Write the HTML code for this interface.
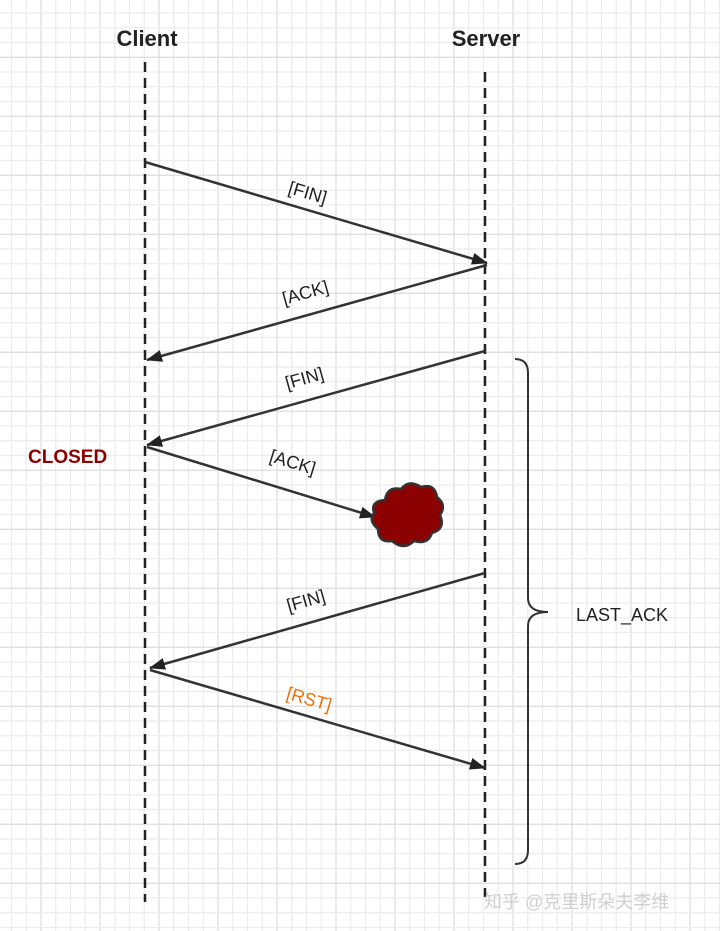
<!DOCTYPE html>
<html><head><meta charset="utf-8"><style>
html,body{margin:0;padding:0;background:#fff}
svg{display:block}
text{font-family:"Liberation Sans","Noto Sans CJK SC",sans-serif}
</style></head><body>
<svg id="chart" width="720" height="931" viewBox="0 0 720 931" xmlns="http://www.w3.org/2000/svg">
<defs>
<marker id="ah" markerWidth="16" markerHeight="12" refX="15" refY="6" orient="auto" markerUnits="userSpaceOnUse"><path d="M0,0 L16,6 L0,12 Z" fill="#222"/></marker>
</defs>
<g id="grid"></g>
<text x="147" y="46" font-size="22" font-weight="bold" text-anchor="middle" fill="#222">Client</text>
<text x="486" y="46" font-size="22" font-weight="bold" text-anchor="middle" fill="#222">Server</text>
<line x1="145" y1="62" x2="145" y2="902" stroke="#222" stroke-width="2.5" stroke-dasharray="10,6"/>
<line x1="485" y1="72" x2="485" y2="897" stroke="#222" stroke-width="2.5" stroke-dasharray="10,6"/>
<g id="msgs"></g>
<path d="M385,500 q2,-14 16,-11 q8,-10 20,-2 q14,-4 16,10 q10,8 3,18 q6,14 -8,18 q-4,12 -18,8 q-10,10 -22,0 q-14,2 -14,-12 q-10,-8 -4,-16 q-4,-12 11,-13 Z" fill="#8b0000" stroke="#333" stroke-width="2.5"/>
<text x="28" y="463" font-size="19" font-weight="bold" fill="#8b0000">CLOSED</text>
<path d="M515,359 q13,0 13,14 L528,598 q0,14 20,14 q-20,0 -20,14 L528,850 q0,14 -13,14" fill="none" stroke="#333" stroke-width="2"/>
<text x="576" y="621" font-size="18" fill="#222">LAST_ACK</text>
<text x="484" y="908" font-size="18" fill="#d0d0d0">知乎 @克里斯朵夫李维</text>
</svg>
<script>
const msgLabels=["[FIN]","[ACK]","[FIN]","[ACK]","[FIN]","[RST]"];
const msgFromX=[145,487,485,147,485,150];
const msgFromY=[162,265,351,447,573,670];
const msgToX=[487,147,147,375,150,485];
const msgToY=[263,360,445,517,668,768];
const msgColors=["#222","#222","#222","#222","#222","#e8720c"];
const NS="http://www.w3.org/2000/svg";
const grid=document.getElementById('grid');
for(let i=0;i<50;i++){
  const x=11.5+i*14.75; if(x>720)break;
  const l=document.createElementNS(NS,'line');
  
  
  l.setAttribute('x1',x);l.setAttribute('x2',x);l.setAttribute('y1',0);l.setAttribute('y2',931);
  l.setAttribute('stroke',(i%4===2)?'#dcdcdc':'#ececec');l.setAttribute('stroke-width',1.2);
  grid.appendChild(l);
}
for(let i=0;i<70;i++){
  const y=13+i*14.75; if(y>931)break;
  const l=document.createElementNS(NS,'line');
  
  
  l.setAttribute('y1',y);l.setAttribute('y2',y);l.setAttribute('x1',0);l.setAttribute('x2',720);
  l.setAttribute('stroke',(i%4===3)?'#dcdcdc':'#ececec');l.setAttribute('stroke-width',1.2);
  grid.appendChild(l);
}
const g=document.getElementById('msgs');
msgLabels.forEach((lab,i)=>{
  const x1=msgFromX[i],y1=msgFromY[i],x2=msgToX[i],y2=msgToY[i];
  const l=document.createElementNS(NS,'line');
  
  
  l.setAttribute('x1',x1);l.setAttribute('y1',y1);l.setAttribute('x2',x2);l.setAttribute('y2',y2);
  l.setAttribute('stroke','#333');l.setAttribute('stroke-width',2.5);l.setAttribute('marker-end','url(#ah)');
  g.appendChild(l);
  let ang=Math.atan2(y2-y1,x2-x1)*180/Math.PI;
  if(ang>90)ang-=180; if(ang<-90)ang+=180;
  const mx=(x1+x2)/2, my=(y1+y2)/2;
  const cx=(i===3)?mx+30:mx-10;
  const t=document.createElementNS(NS,'text');
  
  
  t.setAttribute('x',cx);t.setAttribute('y',my-14);
  t.setAttribute('font-size',18);t.setAttribute('text-anchor','middle');t.setAttribute('fill',msgColors[i]);
  t.setAttribute('transform',`rotate(${ang} ${cx} ${my-14})`);
  t.textContent=lab;
  g.appendChild(t);
});
</script>
</body></html>
